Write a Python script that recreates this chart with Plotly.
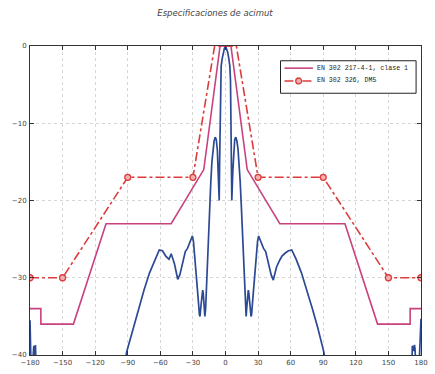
import plotly.graph_objects as go

# --- data ---
# EN 302 217-4-1, clase 1 mask (pink)
mask1_angle = [-180, -170, -170, -140, -110, -50, -20, -5, 5, 20, 50, 110, 140, 170, 170, 180]
mask1_gain = [-34, -34, -36, -36, -23, -23, -16, 0, 0, -16, -23, -23, -36, -36, -34, -34]

# EN 302 326, DM5 mask (red dash-dot with circles)
mask2_angle = [-180, -150, -90, -30, -10, 10, 30, 90, 150, 180]
mask2_gain = [-30, -30, -17, -17, 0, 0, -17, -17, -30, -30]
mask2_marker_angle = [-180, -150, -90, -30, 30, 90, 150, 180]
mask2_marker_gain = [-30, -30, -17, -17, -17, -17, -30, -30]

# Measured antenna pattern (blue)
pattern_angle = [
    -180, -179.5, -178.5, -177.5, -177, -176.5, -176, -175.5, -175, -174.5, -173.5, -170,
    -120, -100, -91, -85, -80, -75, -70, -65, -61, -58, -55, -52, -50, -47, -44, -42,
    -40, -37, -35, -32, -30.5, -29.5, -28.5, -27.5, -26, -25, -24, -23.5, -22.5, -21.5,
    -21, -20.5, -19.5, -19, -18.3, -17.5, -16.5, -15.5, -14.5, -13.5, -12.5, -11.5,
    -10.5, -9.5, -8.5, -7.5, -6.8, -6.3, -5.8, -5.4, -5.0, -4.6, -4, -3, -2, -1, 0,
    1, 2, 3, 4, 4.6, 5.0, 5.4, 5.8, 6.3, 6.8, 7.5, 8.5, 9.5, 10.5, 11.5, 12.5, 13.5,
    14.5, 15.5, 16.5, 17.5, 18.3, 19, 19.5, 20.5, 21, 21.5, 22.5, 23.5, 24, 25, 26,
    27.5, 28.5, 29.5, 30.5, 32, 35, 37, 40, 42, 44, 47, 50, 52, 55, 58, 61, 65, 70,
    75, 80, 85, 90.5, 100, 120, 170, 171, 171.5, 172, 173, 174, 174.5, 175, 176,
    177.5, 178.5, 179.5, 180,
]
pattern_gain = [
    -35.5, -41, -45, -41, -39.2, -38.8, -40.5, -39, -38.7, -41, -46, -55,
    -55, -48, -39.6, -36.5, -34, -31.6, -29.4, -27.6, -26.4, -26.5, -27.2, -27.6, -26.9, -28.2, -30.2, -29.6,
    -28.3, -26.6, -26.2, -25.1, -24.6, -25.3, -26.8, -28.5, -31, -33, -34.8, -35, -33.5, -32,
    -31.6, -32, -34, -35, -34, -31, -27.5, -24, -20.5, -17.5, -15, -13.3,
    -12.3, -11.8, -12.1, -13.5, -16, -18, -20, -15, -9, -4.5, -2.6, -1.6, -0.8, -0.3, 0,
    -0.3, -0.8, -1.6, -2.6, -4.5, -9, -15, -20, -18, -16, -13.5, -12.1, -11.8, -12.3, -13.3, -15, -17.5,
    -20.5, -24, -27.5, -31, -34, -35, -34, -32, -31.6, -32, -33.5, -35, -34.8, -33, -31,
    -28.5, -26.8, -25.3, -24.6, -25.1, -26.2, -26.6, -28.3, -29.6, -30.3, -28.6, -27.7, -27.2, -26.8, -26.5, -26.4, -27.6, -29.4,
    -31.6, -34, -36.5, -39.6, -48, -55, -55, -46, -41, -38.8, -39.5, -38.7, -39.2, -40.5, -44,
    -44, -40, -37, -35.3,
]

x_ticks = [-180, -150, -120, -90, -60, -30, 0, 30, 60, 90, 120, 150, 180]
y_ticks = [-40, -30, -20, -10, 0]

title_text = "Especificaciones de acimut"
legend1 = "EN 302 217-4-1, clase 1"
legend2 = "EN 302 326, DM5"

pink = "#c8427e"
red = "#dc3c3c"
blue = "#2c4a94"
marker_fill = "#f4b0b0"

fig = go.Figure()

fig.add_trace(go.Scatter(
    x=pattern_angle, y=pattern_gain, mode="lines",
    line=dict(color=blue, width=1.7), showlegend=False, hoverinfo="skip",
))
fig.add_trace(go.Scatter(
    x=mask1_angle, y=mask1_gain, mode="lines",
    line=dict(color=pink, width=1.6), name=legend1, showlegend=False,
))
fig.add_trace(go.Scatter(
    x=mask2_angle, y=mask2_gain, mode="lines",
    line=dict(color=red, width=1.6, dash="dashdot"), name=legend2, showlegend=False,
))
fig.add_trace(go.Scatter(
    x=mask2_marker_angle, y=mask2_marker_gain, mode="markers",
    marker=dict(symbol="circle", size=6, color=marker_fill, line=dict(color=red, width=1.3)),
    name=legend2, showlegend=False,
))

# --- manual legend (paper coordinates of the plot area) ---
def px_x(px):
    return (px - 30) / 398.0

def px_y(py):
    return (360 - py) / 314.0

shapes = [
    dict(type="rect", xref="paper", yref="paper",
         x0=px_x(285), x1=px_x(423), y0=px_y(94), y1=px_y(61),
         line=dict(color="#222222", width=1), fillcolor="white", layer="above"),
    dict(type="line", xref="paper", yref="paper",
         x0=px_x(289), x1=px_x(318), y0=px_y(68.5), y1=px_y(68.5),
         line=dict(color=pink, width=1.6), layer="above"),
    dict(type="line", xref="paper", yref="paper",
         x0=px_x(289), x1=px_x(318), y0=px_y(81.5), y1=px_y(81.5),
         line=dict(color=red, width=1.6, dash="dashdot"), layer="above"),
    dict(type="circle", xref="paper", yref="paper",
         x0=px_x(300.5), x1=px_x(306.5), y0=px_y(84.5), y1=px_y(78.5),
         line=dict(color=red, width=1.3), fillcolor=marker_fill, layer="above"),
]
annotations = [
    dict(xref="paper", yref="paper", x=px_x(320), y=px_y(68.5), xanchor="left", yanchor="middle",
         text=legend1, showarrow=False,
         font=dict(family="Liberation Mono", size=6.6, color="#222222")),
    dict(xref="paper", yref="paper", x=px_x(320), y=px_y(81.5), xanchor="left", yanchor="middle",
         text=legend2, showarrow=False,
         font=dict(family="Liberation Mono", size=6.6, color="#222222")),
]

axis_common = dict(
    showline=True, linecolor="#333333", linewidth=1, mirror="ticks",
    ticks="inside", ticklen=4, tickcolor="#333333",
    showgrid=True, gridcolor="#d6d6d6", griddash="dot", gridwidth=1,
    zeroline=False, tickfont=dict(family="DejaVu Sans", size=7, color="#444444"),
)

fig.update_layout(
    width=435, height=374,
    margin=dict(l=30, r=7, t=46, b=14),
    paper_bgcolor="white", plot_bgcolor="white",
    title=dict(text="<i>" + title_text + "</i>", x=215 / 435, xanchor="center",
               y=1 - 13 / 374, yanchor="middle",
               font=dict(family="DejaVu Sans", size=8.5, color="#444444")),
    xaxis=dict(range=[-180, 180], tickvals=x_ticks, ticklabelstandoff=1, **axis_common),
    yaxis=dict(range=[-40, 0], tickvals=y_ticks, ticklabelstandoff=1, **axis_common),
    shapes=shapes,
    annotations=annotations,
    showlegend=False,
)

fig.write_html("out.html")
